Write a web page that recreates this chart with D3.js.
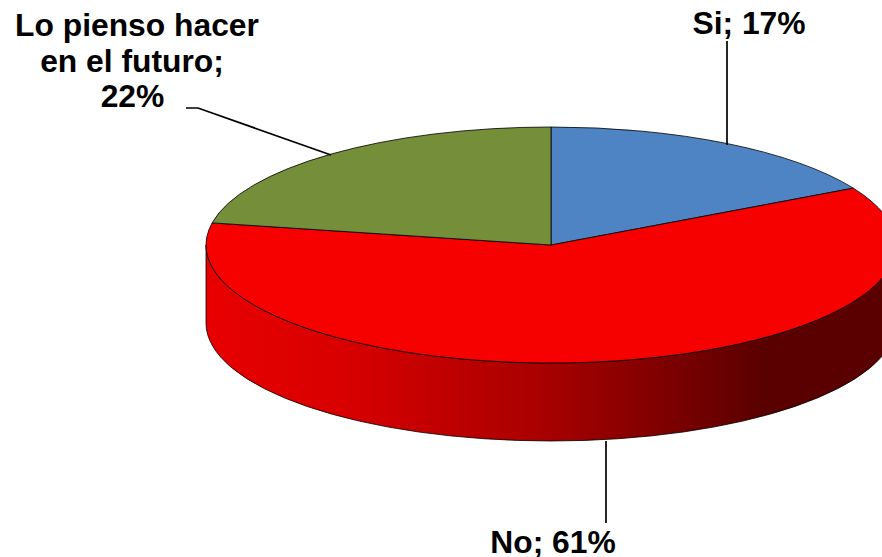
<!DOCTYPE html>
<html>
<head>
<meta charset="utf-8">
<script src="https://cdn.jsdelivr.net/npm/d3@7"></script>
<style>
  html, body { margin: 0; padding: 0; background: #fff; overflow: hidden; }
  text { font-family: "Liberation Sans", Arial, sans-serif; font-weight: bold; font-size: 31.8px; fill: #000; }
</style>
</head>
<body>
<div id="d3-graph"></div>

<script>
// chart data, clockwise from 12 o'clock
const categories = ["Si", "No", "Lo pienso hacer en el futuro"];
const percents = [17, 61, 22];
const sliceColors = ["#4f84c4", "#f60000", "#748e3a"];

// label lines as they wrap in the picture
const labelLines = [
  ["Si; 17%"],
  ["No; 61%"],
  ["Lo pienso hacer", "en el futuro;", "22%"]
];

const width = 882, height = 557;
const cx = 551, cy = 245, rx = 345, ry = 118, depth = 78;

const svg = d3.select("#d3-graph")
  .append("svg")
    .attr("width", width)
    .attr("height", height)
    .style("display", "block");

// wall gradient runs left to right across the pie
const grad = svg.append("defs").append("linearGradient")
    .attr("id", "wall")
    .attr("gradientUnits", "userSpaceOnUse")
    .attr("x1", cx - rx).attr("x2", cx + rx)
    .attr("y1", 0).attr("y2", 0);
[[0, "#e80000"], [0.2, "#d80000"], [0.5, "#a60000"], [0.81, "#5a0000"], [1, "#5a0000"]]
  .forEach(s => grad.append("stop").attr("offset", s[0]).attr("stop-color", s[1]));

// side wall, only the front half shows
const wall = d3.path();
wall.moveTo(cx - rx, cy);
wall.lineTo(cx - rx, cy + depth);
const wallD = `${wall.toString()} A${rx},${ry} 0 0 0 ${cx + rx},${cy + depth} L${cx + rx},${cy} A${rx},${ry} 0 0 1 ${cx - rx},${cy} Z`;
svg.append("path")
  .attr("d", wallD)
  .attr("fill", "url(#wall)")
  .attr("stroke", "#000")
  .attr("stroke-width", 0.8);

// top face: circular pie squashed into an ellipse
const pie = d3.pie().sort(null)(percents);
const arc = d3.arc().innerRadius(0).outerRadius(rx);

svg.append("g")
    .attr("transform", `translate(${cx},${cy}) scale(1,${ry / rx})`)
  .selectAll("path")
  .data(pie)
  .join("path")
    .attr("d", arc)
    .attr("fill", (d, i) => sliceColors[i])
    .attr("stroke", "#000")
    .attr("stroke-width", 0.8)
    .attr("vector-effect", "non-scaling-stroke")
    .append("title").text((d, i) => categories[i]);

// leader lines
const leaders = [
  [[727, 41], [727, 145]],
  [[606, 441], [606, 523]],
  [[186, 108], [198, 108], [331, 155]]
];
svg.append("g").selectAll("path")
  .data(leaders)
  .join("path")
    .attr("d", d3.line())
    .attr("fill", "none")
    .attr("stroke", "#000")
    .attr("stroke-width", 1.7);

// labels, one x and y per wrapped line
const labelX = [[749], [553], [137, 132, 132.5]];
const labelY = [[33.5], [553], [36, 71.5, 107]];
svg.append("g").selectAll("text")
  .data(labelLines)
  .join("text")
    .attr("text-anchor", "middle")
    .each(function(lines, i) {
      d3.select(this).selectAll("tspan")
        .data(lines)
        .join("tspan")
          .attr("x", (d, j) => labelX[i][j])
          .attr("y", (d, j) => labelY[i][j])
          .text(d => d);
    });
</script>
</body>
</html>
